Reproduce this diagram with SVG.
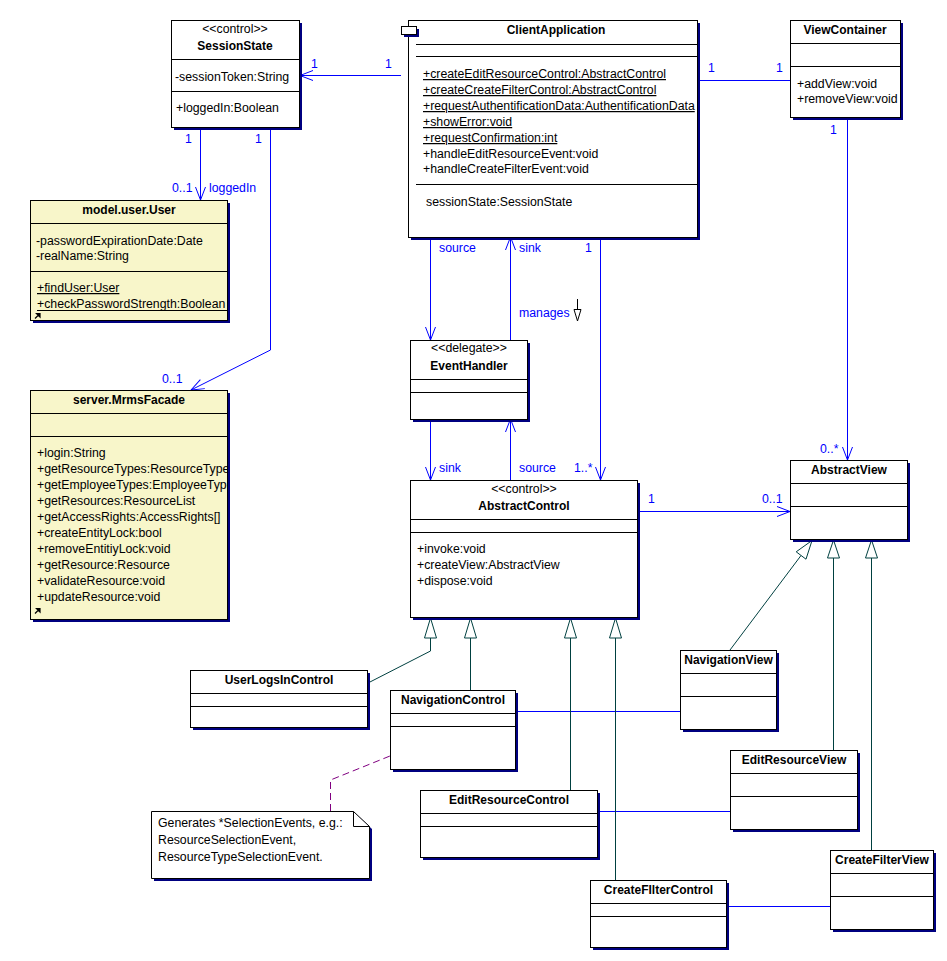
<svg xmlns="http://www.w3.org/2000/svg" width="947" height="961" viewBox="0 0 947 961">
<style>
.bg{fill:#fff}
.box{fill:#fff;stroke:#000;stroke-width:1}
.ybox{fill:#f8f6ca;stroke:#000;stroke-width:1}
.sh{fill:#000080}
.dv{stroke:#000;stroke-width:1}
.t{font-family:"Liberation Sans",Arial,sans-serif;font-size:12.3px;fill:#000}
.b{font-weight:bold;font-size:12px}
.c{text-anchor:middle}
.u{text-decoration:underline}
.lbl{font-family:"Liberation Sans",Arial,sans-serif;font-size:12.3px;fill:#0000ff}
.as{stroke:#0000ff;stroke-width:1;fill:none}
.gen{stroke:#004040;stroke-width:1;fill:none}
.tri{stroke:#004040;stroke-width:1;fill:#fff}
.note{stroke:#800080;stroke-width:1;fill:none;stroke-dasharray:7,4}
</style>
<defs>
<marker id="open" markerUnits="userSpaceOnUse" markerWidth="16" markerHeight="14" refX="14" refY="6" orient="auto" overflow="visible">
<path d="M1,1 L14,6 L1,11" fill="none" stroke="#0000ff" stroke-width="1"/>
</marker>
<clipPath id="clipMrms"><rect x="30" y="390" width="197" height="229"/></clipPath>
<clipPath id="clipUser"><rect x="30" y="200" width="197" height="120"/></clipPath>
</defs>
<rect class="bg" x="0" y="0" width="947" height="961"/>

<g id="connectors">
<line class="as" x1="401" y1="75.5" x2="300" y2="75.5" marker-end="url(#open)"/>
<line class="as" x1="697" y1="80.5" x2="790" y2="80.5"/>
<line class="as" x1="847.5" y1="117" x2="847.5" y2="460" marker-end="url(#open)"/>
<line class="as" x1="200.5" y1="127" x2="200.5" y2="200" marker-end="url(#open)"/>
<polyline class="as" points="270.5,127 270.5,350 191,390" marker-end="url(#open)"/>
<line class="as" x1="430.5" y1="237" x2="430.5" y2="340" marker-end="url(#open)"/>
<line class="as" x1="510.5" y1="340" x2="510.5" y2="237" marker-end="url(#open)"/>
<line class="as" x1="600.5" y1="237" x2="600.5" y2="480" marker-end="url(#open)"/>
<line class="as" x1="430.5" y1="419" x2="430.5" y2="480" marker-end="url(#open)"/>
<line class="as" x1="510.5" y1="480" x2="510.5" y2="419" marker-end="url(#open)"/>
<line class="as" x1="637" y1="511.5" x2="790" y2="511.5" marker-end="url(#open)"/>
<line class="as" x1="515" y1="711.5" x2="680" y2="711.5"/>
<line class="as" x1="597" y1="811.5" x2="730" y2="811.5"/>
<line class="as" x1="726" y1="906.5" x2="830" y2="906.5"/>
<polyline class="gen" points="430.5,638 430.5,651 368,683"/>
<line class="gen" x1="470.5" y1="638" x2="470.5" y2="690"/>
<line class="gen" x1="570.5" y1="638" x2="570.5" y2="790"/>
<line class="gen" x1="615.5" y1="638" x2="615.5" y2="880"/>
<polygon class="tri" points="430.5,618 424.5,638 436.5,638"/>
<polygon class="tri" points="470.5,618 464.5,638 476.5,638"/>
<polygon class="tri" points="570.5,618 564.5,638 576.5,638"/>
<polygon class="tri" points="615.5,618 609.5,638 621.5,638"/>
<line class="gen" x1="801" y1="555.5" x2="730" y2="650"/>
<line class="gen" x1="833.5" y1="558" x2="833.5" y2="750"/>
<line class="gen" x1="871.5" y1="558" x2="871.5" y2="850"/>
<polygon class="tri" points="812,540.5 796.2,551.8 806,559.2"/>
<polygon class="tri" points="833.5,540 827.5,558 839.5,558"/>
<polygon class="tri" points="871.5,540 865.5,558 877.5,558"/>
<polyline class="note" points="330.5,811 330.5,780 390,756"/>
<line x1="577.5" y1="299" x2="577.5" y2="310" stroke="#000"/>
<polygon points="574,309.5 581,309.5 577.5,321" fill="#fff" stroke="#000"/>
<text class="lbl" x="311" y="68">1</text>
<text class="lbl" x="385" y="68">1</text>
<text class="lbl" x="708" y="72">1</text>
<text class="lbl" x="776" y="72">1</text>
<text class="lbl" x="830" y="134">1</text>
<text class="lbl" x="820" y="453">0..*</text>
<text class="lbl" x="185" y="143">1</text>
<text class="lbl" x="255" y="143">1</text>
<text class="lbl" x="172" y="192">0..1</text>
<text class="lbl" x="209" y="192">loggedIn</text>
<text class="lbl" x="162" y="383">0..1</text>
<text class="lbl" x="439" y="252">source</text>
<text class="lbl" x="519" y="252">sink</text>
<text class="lbl" x="585" y="252">1</text>
<text class="lbl" x="519" y="317">manages</text>
<text class="lbl" x="439" y="472">sink</text>
<text class="lbl" x="519" y="472">source</text>
<text class="lbl" x="574" y="472">1..*</text>
<text class="lbl" x="648" y="503">1</text>
<text class="lbl" x="762" y="503">0..1</text>
</g>

<g id="SessionState">
<rect class="sh" x="174" y="23" width="128" height="107"/>
<rect class="box" x="171.5" y="20.5" width="128" height="107"/>
<line class="dv" x1="171.5" y1="59.5" x2="299.5" y2="59.5"/>
<line class="dv" x1="171.5" y1="91.5" x2="299.5" y2="91.5"/>
<text class="t c" x="235" y="33">&lt;&lt;control&gt;&gt;</text>
<text class="t b c" x="235" y="50">SessionState</text>
<text class="t" x="175" y="81">-sessionToken:String</text>
<text class="t" x="176" y="112">+loggedIn:Boolean</text>
</g>

<g id="ClientApplication">
<rect class="sh" x="411" y="23" width="289" height="217"/>
<rect class="box" x="408.5" y="20.5" width="289" height="217"/>
<rect class="sh" x="404" y="29" width="15" height="8"/>
<rect class="box" x="401.5" y="26.5" width="15" height="8"/>
<line class="dv" x1="416" y1="44.5" x2="697.5" y2="44.5"/>
<line class="dv" x1="416" y1="56.5" x2="697.5" y2="56.5"/>
<line class="dv" x1="416" y1="184.5" x2="697.5" y2="184.5"/>
<text class="t b c" x="556" y="34">ClientApplication</text>
<text class="t u" x="423" y="78">+createEditResourceControl:AbstractControl</text>
<text class="t u" x="423" y="94">+createCreateFilterControl:AbstractControl</text>
<text class="t u" x="423" y="110">+requestAuthentificationData:AuthentificationData</text>
<text class="t u" x="423" y="126">+showError:void</text>
<text class="t u" x="423" y="142">+requestConfirmation:int</text>
<text class="t" x="423" y="158">+handleEditResourceEvent:void</text>
<text class="t" x="423" y="173">+handleCreateFilterEvent:void</text>
<text class="t" x="426" y="206">sessionState:SessionState</text>
</g>

<g id="ViewContainer">
<rect class="sh" x="793" y="23" width="110" height="97"/>
<rect class="box" x="790.5" y="20.5" width="110" height="97"/>
<line class="dv" x1="790.5" y1="43.5" x2="900.5" y2="43.5"/>
<line class="dv" x1="790.5" y1="66.5" x2="900.5" y2="66.5"/>
<text class="t b c" x="845" y="34">ViewContainer</text>
<text class="t" x="797" y="88">+addView:void</text>
<text class="t" x="797" y="103">+removeView:void</text>
</g>

<g id="model.user.User">
<rect class="sh" x="33" y="203" width="197" height="120"/>
<rect class="ybox" x="30.5" y="200.5" width="197" height="120"/>
<line class="dv" x1="30.5" y1="223.5" x2="227.5" y2="223.5"/>
<line class="dv" x1="30.5" y1="271.5" x2="227.5" y2="271.5"/>
<text class="t b c" x="129" y="214">model.user.User</text>
<g clip-path="url(#clipUser)">
<text class="t" x="36" y="245">-passwordExpirationDate:Date</text>
<text class="t" x="36" y="260">-realName:String</text>
<text class="t u" x="37" y="292">+findUser:User</text>
<text class="t" x="37" y="308">+checkPasswordStrength:Boolean</text>
</g>
<line class="dv" x1="37" y1="310.5" x2="227.5" y2="310.5"/>
<path d="M35,318.5 L38.5,315 M36.5,313.5 L40,313.5 L40,317 Z" stroke="#000" stroke-width="1.2" fill="#000"/>
</g>

<g id="server.MrmsFacade">
<rect class="sh" x="33" y="393" width="197" height="229"/>
<rect class="ybox" x="30.5" y="390.5" width="197" height="229"/>
<line class="dv" x1="30.5" y1="413.5" x2="227.5" y2="413.5"/>
<line class="dv" x1="30.5" y1="436.5" x2="227.5" y2="436.5"/>
<text class="t b c" x="129" y="404">server.MrmsFacade</text>
<g clip-path="url(#clipMrms)">
<text class="t" x="37" y="457">+login:String</text>
<text class="t" x="37" y="473">+getResourceTypes:ResourceType</text>
<text class="t" x="37" y="489">+getEmployeeTypes:EmployeeType</text>
<text class="t" x="37" y="505">+getResources:ResourceList</text>
<text class="t" x="37" y="521">+getAccessRights:AccessRights[]</text>
<text class="t" x="37" y="537">+createEntityLock:bool</text>
<text class="t" x="37" y="553">+removeEntitiyLock:void</text>
<text class="t" x="37" y="569">+getResource:Resource</text>
<text class="t" x="37" y="585">+validateResource:void</text>
<text class="t" x="37" y="601">+updateResource:void</text>
</g>
<path d="M35,613.5 L38.5,610 M36.5,608.5 L40,608.5 L40,612 Z" stroke="#000" stroke-width="1.2" fill="#000"/>
</g>

<g id="EventHandler">
<rect class="sh" x="413" y="343" width="117" height="79"/>
<rect class="box" x="410.5" y="340.5" width="117" height="79"/>
<line class="dv" x1="410.5" y1="379.5" x2="527.5" y2="379.5"/>
<line class="dv" x1="410.5" y1="392.5" x2="527.5" y2="392.5"/>
<text class="t c" x="469" y="352">&lt;&lt;delegate&gt;&gt;</text>
<text class="t b c" x="469" y="370">EventHandler</text>
</g>

<g id="AbstractControl">
<rect class="sh" x="413" y="483" width="227" height="137"/>
<rect class="box" x="410.5" y="480.5" width="227" height="137"/>
<line class="dv" x1="410.5" y1="519.5" x2="637.5" y2="519.5"/>
<line class="dv" x1="410.5" y1="532.5" x2="637.5" y2="532.5"/>
<text class="t c" x="524" y="493">&lt;&lt;control&gt;&gt;</text>
<text class="t b c" x="524" y="510">AbstractControl</text>
<text class="t" x="417" y="553">+invoke:void</text>
<text class="t" x="417" y="569">+createView:AbstractView</text>
<text class="t" x="417" y="585">+dispose:void</text>
</g>

<g id="AbstractView">
<rect class="sh" x="793" y="463" width="117" height="79"/>
<rect class="box" x="790.5" y="460.5" width="117" height="79"/>
<line class="dv" x1="790.5" y1="483.5" x2="907.5" y2="483.5"/>
<line class="dv" x1="790.5" y1="506.5" x2="907.5" y2="506.5"/>
<text class="t b c" x="849" y="474">AbstractView</text>
</g>

<g id="UserLogsInControl">
<rect class="sh" x="193" y="673" width="177" height="57"/>
<rect class="box" x="190.5" y="670.5" width="177" height="57"/>
<line class="dv" x1="190.5" y1="693.5" x2="367.5" y2="693.5"/>
<line class="dv" x1="190.5" y1="706.5" x2="367.5" y2="706.5"/>
<text class="t b c" x="279" y="684">UserLogsInControl</text>
</g>

<g id="NavigationControl">
<rect class="sh" x="393" y="693" width="125" height="79"/>
<rect class="box" x="390.5" y="690.5" width="125" height="79"/>
<line class="dv" x1="390.5" y1="713.5" x2="515.5" y2="713.5"/>
<line class="dv" x1="390.5" y1="726.5" x2="515.5" y2="726.5"/>
<text class="t b c" x="453" y="704">NavigationControl</text>
</g>

<g id="NavigationView">
<rect class="sh" x="683" y="653" width="96" height="79"/>
<rect class="box" x="680.5" y="650.5" width="96" height="79"/>
<line class="dv" x1="680.5" y1="673.5" x2="776.5" y2="673.5"/>
<line class="dv" x1="680.5" y1="696.5" x2="776.5" y2="696.5"/>
<text class="t b c" x="728.5" y="664">NavigationView</text>
</g>

<g id="EditResourceView">
<rect class="sh" x="733" y="753" width="127" height="79"/>
<rect class="box" x="730.5" y="750.5" width="127" height="79"/>
<line class="dv" x1="730.5" y1="773.5" x2="857.5" y2="773.5"/>
<line class="dv" x1="730.5" y1="796.5" x2="857.5" y2="796.5"/>
<text class="t b c" x="794" y="764">EditResourceView</text>
</g>

<g id="EditResourceControl">
<rect class="sh" x="423" y="793" width="177" height="67"/>
<rect class="box" x="420.5" y="790.5" width="177" height="67"/>
<line class="dv" x1="420.5" y1="813.5" x2="597.5" y2="813.5"/>
<line class="dv" x1="420.5" y1="826.5" x2="597.5" y2="826.5"/>
<text class="t b c" x="509" y="804">EditResourceControl</text>
</g>

<g id="CreateFIlterControl">
<rect class="sh" x="593" y="883" width="136" height="67"/>
<rect class="box" x="590.5" y="880.5" width="136" height="67"/>
<line class="dv" x1="590.5" y1="903.5" x2="726.5" y2="903.5"/>
<line class="dv" x1="590.5" y1="916.5" x2="726.5" y2="916.5"/>
<text class="t b c" x="658.5" y="894">CreateFIlterControl</text>
</g>

<g id="CreateFilterView">
<rect class="sh" x="833" y="853" width="103" height="79"/>
<rect class="box" x="830.5" y="850.5" width="103" height="79"/>
<line class="dv" x1="830.5" y1="873.5" x2="933.5" y2="873.5"/>
<line class="dv" x1="830.5" y1="896.5" x2="933.5" y2="896.5"/>
<text class="t b c" x="882" y="864">CreateFilterView</text>
</g>

<g id="note">
<polygon class="sh" points="356,814 372,829 372,881 154,881 154,814"/>
<polygon class="box" points="151.5,811.5 353.5,811.5 369.5,826.5 369.5,878.5 151.5,878.5"/>
<polyline points="353.5,811.5 353.5,826.5 369.5,826.5" fill="none" stroke="#000"/>
<text class="t" x="158" y="827">Generates *SelectionEvents, e.g.:</text>
<text class="t" x="158" y="844">ResourceSelectionEvent,</text>
<text class="t" x="158" y="861">ResourceTypeSelectionEvent.</text>
</g>
</svg>
